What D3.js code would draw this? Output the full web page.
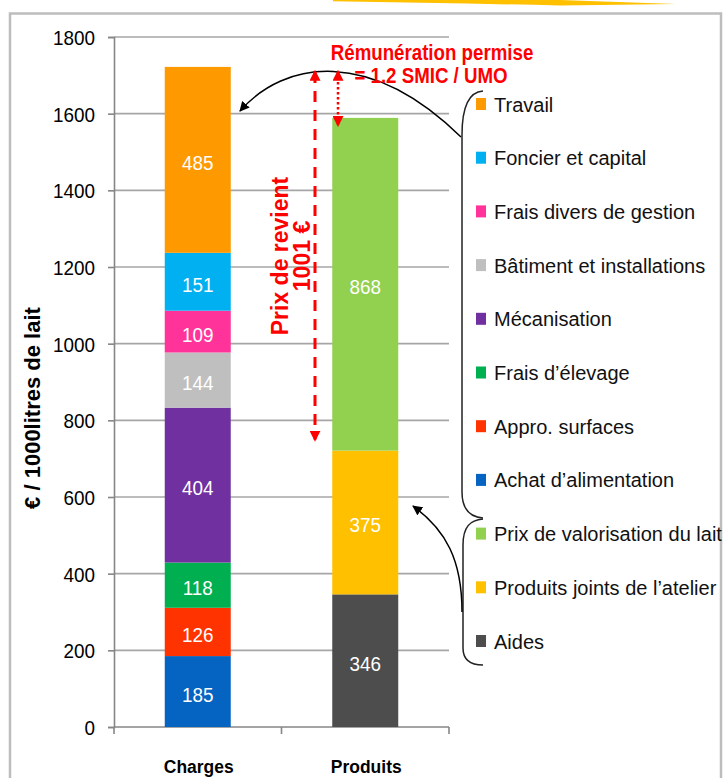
<!DOCTYPE html>
<html><head><meta charset="utf-8">
<script src="https://cdn.jsdelivr.net/npm/d3@7"></script>
<style>
html,body{margin:0;padding:0;background:#fff;}
svg{display:block;}
text{font-family:"Liberation Sans",Arial,sans-serif;}
</style></head>
<body>
<svg id="c" width="723" height="778"></svg>
<script>
// ---- data ----
const categories = ["Charges", "Produits"];
const chargeSeries = ["Achat d’alimentation", "Appro. surfaces", "Frais d’élevage", "Mécanisation", "Bâtiment et installations", "Frais divers de gestion", "Foncier et capital", "Travail"];
const chargeValues = [185, 126, 118, 404, 144, 109, 151, 485];
const chargeColors = ["#0563C1", "#FF3300", "#00B050", "#7030A0", "#BFBFBF", "#FF3399", "#00B0F0", "#FF9900"];
const produitSeries = ["Aides", "Produits joints de l’atelier", "Prix de valorisation du lait"];
const produitValues = [346, 375, 868];
const produitColors = ["#4D4D4D", "#FFC000", "#92D050"];
const yTicks = [0, 200, 400, 600, 800, 1000, 1200, 1400, 1600, 1800];
const legendOrder = ["Travail", "Foncier et capital", "Frais divers de gestion", "Bâtiment et installations", "Mécanisation", "Frais d’élevage", "Appro. surfaces", "Achat d’alimentation", "Prix de valorisation du lait", "Produits joints de l’atelier", "Aides"];
const prixRevient = 1001;

const svg = d3.select("#c");
const y = d3.scaleLinear().domain([0, 1800]).range([727, 37]);
const x = d3.scaleBand().domain(categories).range([114, 449]).paddingInner(0.606).paddingOuter(0.303);

// text helper: horizontally condensed text (Calibri-like look)
function label(parent, px, py, s, size, o = {}) {
  const sx = o.sx ?? 0.9;
  const rot = o.rotate ? ` rotate(${o.rotate})` : "";
  return parent.append("text")
    .attr("transform", `translate(${px},${py})${rot} scale(${sx},1)`)
    .attr("text-anchor", o.anchor || "start")
    .attr("font-size", size)
    .attr("font-weight", o.bold ? "bold" : "normal")
    .attr("fill", o.fill || "#000")
    .text(s);
}

// frame + swoosh
svg.append("path").attr("d", "M333,0 L560,0 L676,4 L560,5.5 Q450,3 333,1.2 Z").attr("fill", "#FFC000");
svg.append("rect").attr("x", 10).attr("y", 13.5).attr("width", 711).attr("height", 800)
  .attr("fill", "none").attr("stroke", "#BDBDBD").attr("stroke-width", 2.5);

// gridlines
svg.append("g").selectAll("line").data(yTicks.filter(d => d > 0)).join("line")
  .attr("x1", 114).attr("x2", 449).attr("y1", d => y(d)).attr("y2", d => y(d))
  .attr("stroke", "#A6A6A6").attr("stroke-width", 1.6);

// y axis
const yAxis = svg.append("g").attr("transform", "translate(114,0)")
  .call(d3.axisLeft(y).tickValues(yTicks).tickFormat(d3.format("d")).tickSize(6));
yAxis.select(".domain").attr("stroke", "#868686").attr("stroke-width", 1.6);
yAxis.selectAll(".tick line").attr("stroke", "#868686").attr("stroke-width", 1.6);
yAxis.selectAll(".tick text").attr("font-size", 21).attr("fill", "#000")
  .attr("font-family", "Liberation Sans, Arial, sans-serif")
  .attr("x", -19 / 0.9).attr("dy", "0.36em").attr("transform", "scale(0.9,1)");

// x axis baseline + ticks
svg.append("line").attr("x1", 114).attr("x2", 449).attr("y1", y(0)).attr("y2", y(0))
  .attr("stroke", "#868686").attr("stroke-width", 1.6);
const bounds = [x.range()[0], (x("Charges") + x.bandwidth() + x("Produits")) / 2, x.range()[1]];
svg.append("g").selectAll("line").data(bounds).join("line")
  .attr("x1", d => d).attr("x2", d => d).attr("y1", y(0)).attr("y2", y(0) + 7)
  .attr("stroke", "#868686").attr("stroke-width", 1.6);
const xl = svg.append("g");
categories.forEach(c => label(xl, x(c) + x.bandwidth() / 2 + 1, 773, c, 19, { bold: true, anchor: "middle", sx: 0.92 }));

// y title
label(svg, 40, 408, "€ / 1000litres de lait", 22, { bold: true, anchor: "middle", rotate: -90, sx: 1 });

// stacks
function stackData(values, colors, names) {
  let acc = 0;
  return values.map((v, i) => { const s = { y0: acc, y1: acc + v, v, c: colors[i], n: names[i] }; acc += v; return s; });
}
const stacks = [
  { cat: "Charges", segs: stackData(chargeValues, chargeColors, chargeSeries) },
  { cat: "Produits", segs: stackData(produitValues, produitColors, produitSeries) }
];
stacks.forEach(st => {
  const g = svg.append("g");
  g.selectAll("rect").data(st.segs).join("rect")
    .attr("x", x(st.cat)).attr("width", x.bandwidth())
    .attr("y", d => y(d.y1)).attr("height", d => y(d.y0) - y(d.y1)).attr("fill", d => d.c);
  st.segs.forEach(d => label(g, x(st.cat) + x.bandwidth() / 2, (y(d.y0) + y(d.y1)) / 2 + 10, d.v, 21,
    { anchor: "middle", fill: "#fff" }));
});

// legend
const colorOf = {};
chargeSeries.forEach((n, i) => colorOf[n] = chargeColors[i]);
produitSeries.forEach((n, i) => colorOf[n] = produitColors[i]);
const lg = svg.append("g");
legendOrder.forEach((n, i) => {
  const cy = 104 + i * 53.7;
  lg.append("rect").attr("x", 476).attr("y", cy - 6).attr("width", 10).attr("height", 12).attr("fill", colorOf[n]);
  label(lg, 494, cy + 7.5, n, 20, { fill: "#111", sx: 1 });
});

// braces
svg.append("path").attr("d", "M483,91 C468,92 462,108 462,135 L462,492 C462,510 470,517 483,518")
  .attr("fill", "none").attr("stroke", "#222").attr("stroke-width", 1.5);
svg.append("path").attr("d", "M483,519 C470,520 463,527 463,545 L463,648 C463,660 470,665 483,665")
  .attr("fill", "none").attr("stroke", "#222").attr("stroke-width", 1.5);

// arrow markers
const defs = svg.append("defs");
defs.append("marker").attr("id", "ab").attr("viewBox", "0 0 10 10").attr("refX", 9).attr("refY", 5)
  .attr("markerWidth", 10).attr("markerHeight", 10).attr("orient", "auto-start-reverse").attr("markerUnits", "userSpaceOnUse")
  .append("path").attr("d", "M0,0 L10,5 L0,10 Z").attr("fill", "#000");
defs.append("marker").attr("id", "ar").attr("viewBox", "0 0 10 10").attr("refX", 8).attr("refY", 5)
  .attr("markerWidth", 11).attr("markerHeight", 11).attr("orient", "auto-start-reverse").attr("markerUnits", "userSpaceOnUse")
  .append("path").attr("d", "M0,0 L10,5 L0,10 Z").attr("fill", "#FF0000");

// black curved arrows
svg.append("path").attr("d", "M461,137 C370,48 285,60 240,111")
  .attr("fill", "none").attr("stroke", "#000").attr("stroke-width", 1.5).attr("marker-end", "url(#ab)");
svg.append("path").attr("d", "M462,612 C462,560 446,530 413,506")
  .attr("fill", "none").attr("stroke", "#000").attr("stroke-width", 1.5).attr("marker-end", "url(#ab)");

// red arrows
const totalCharges = d3.sum(chargeValues);
const topProd = d3.sum(produitValues);
const baseLait = totalCharges - prixRevient;
svg.append("line").attr("x1", 315).attr("x2", 315).attr("y1", y(totalCharges) + 5).attr("y2", y(baseLait) - 11)
  .attr("stroke", "#FF0000").attr("stroke-width", 3).attr("stroke-dasharray", "11,8")
  .attr("marker-start", "url(#ar)").attr("marker-end", "url(#ar)");
svg.append("line").attr("x1", 338).attr("x2", 338).attr("y1", y(totalCharges) + 5).attr("y2", y(topProd) + 7)
  .attr("stroke", "#FF0000").attr("stroke-width", 2.5).attr("stroke-dasharray", "2.5,2.5")
  .attr("marker-start", "url(#ar)").attr("marker-end", "url(#ar)");

// red texts
label(svg, 432, 60, "Rémunération  permise", 22, { bold: true, anchor: "middle", fill: "#FF0000", sx: 0.85 });
label(svg, 431, 83, "= 1.2 SMIC / UMO", 22, { bold: true, anchor: "middle", fill: "#FF0000", sx: 0.85 });
label(svg, 288, 256, "Prix de revient", 23, { bold: true, anchor: "middle", fill: "#FF0000", rotate: -90, sx: 1 });
label(svg, 310, 256, prixRevient + " €", 23, { bold: true, anchor: "middle", fill: "#FF0000", rotate: -90, sx: 1 });
</script>
</body></html>
